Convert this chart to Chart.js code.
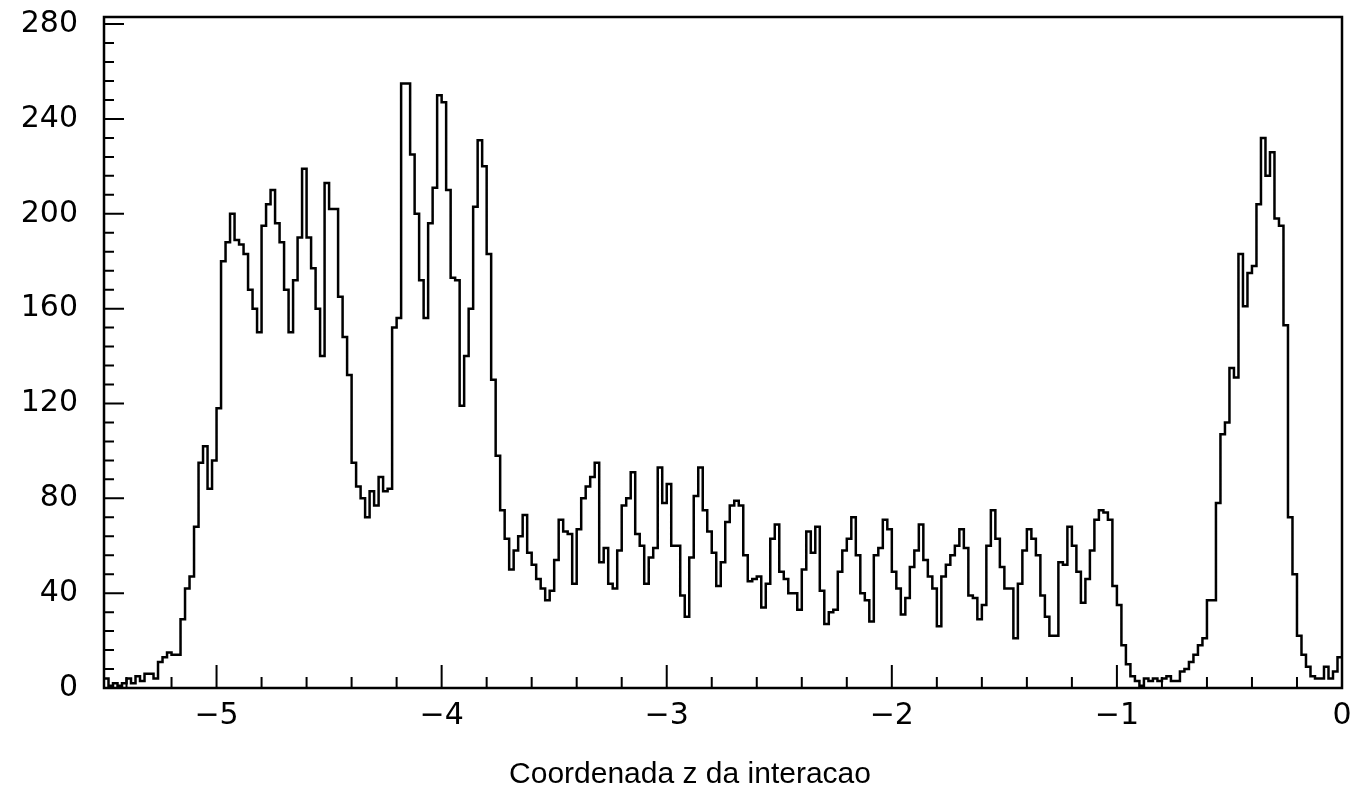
<!DOCTYPE html>
<html lang="pt">
<head>
  <meta charset="UTF-8">
  <title>Coordenada z da interacao</title>
  <script src="https://cdn.jsdelivr.net/npm/chart.js"></script>
  <style>
    html, body { margin: 0; padding: 0; background: #fff; }
    canvas { display: block; }
  </style>
</head>
<body>
  <canvas id="zChart" width="1364" height="798"></canvas>

  <script>
    // histograma: 275 canais de 0.02 entre -5.5 e 0
    const binStart = -5.5;
    const binWidth = 0.02;

    const countsA = [4, 1, 2, 1, 2, 4, 2, 5, 3, 6, 6, 4, 11, 13, 15, 14, 14, 29, 42, 47, 68, 95, 102, 84, 96,
                     118, 180, 188, 200, 189, 187, 183, 168, 160, 150, 195, 204, 210, 196, 188, 168, 150, 172, 190, 219, 190, 177, 160, 140, 213];
    const countsB = [202, 202, 165, 148, 132, 95, 85, 80, 72, 83, 77, 89, 83, 84, 152, 156, 255, 255, 225, 200, 172, 156, 196, 211, 250,
                     247, 210, 173, 172, 119, 140, 160, 203, 231, 220, 183, 130, 98, 75, 63, 50, 58, 64, 73, 57, 52, 46, 42, 37, 41];
    const countsC = [54, 71, 66, 65, 44, 67, 80, 85, 89, 95, 53, 59, 44, 42, 58, 77, 80, 91, 65, 60, 44, 55, 59, 93, 78,
                     86, 60, 60, 39, 30, 55, 81, 93, 75, 66, 57, 43, 53, 70, 77, 79, 77, 56, 45, 46, 47, 34, 44, 63, 69];
    const countsD = [49, 46, 40, 40, 33, 50, 66, 57, 68, 41, 27, 32, 33, 49, 58, 63, 72, 56, 40, 37, 28, 56, 59, 71, 67,
                     49, 42, 31, 38, 51, 58, 69, 54, 47, 42, 26, 47, 52, 56, 60, 67, 59, 39, 38, 29, 35, 60, 75, 63, 51];
    const countsE = [42, 42, 21, 44, 58, 67, 63, 56, 39, 30, 22, 22, 53, 52, 68, 60, 49, 36, 46, 58, 71, 75, 74, 71, 43,
                     35, 18, 10, 5, 3, 1, 4, 3, 4, 3, 4, 5, 3, 3, 7, 8, 11, 14, 18, 21, 37, 37, 78, 107, 112];
    const countsF = [135, 131, 183, 161, 175, 178, 204, 232, 216, 226, 198, 195, 153, 72, 48, 22, 14, 9, 5, 4, 4, 9, 4, 7, 13];

    const xTickValues = [-5, -4, -3, -2, -1, 0];
    const yTickValues = [0, 40, 80, 120, 160, 200, 240, 280];
    const xMinorStep = 0.2;
    const yMinorStep = 8;

    const counts = [].concat(countsA, countsB, countsC, countsD, countsE, countsF);
    const xMin = binStart;
    const xMax = binStart + counts.length * binWidth;

    // pontos nas bordas esquerdas dos canais + ponto final na borda direita
    const points = counts.map((c, i) => ({ x: binStart + i * binWidth, y: c }));
    points.push({ x: xMax, y: counts[counts.length - 1] });

    const TICK_FONT = '"DejaVu Sans", sans-serif';
    const TITLE_FONT = '"Liberation Sans", Arial, sans-serif';

    // moldura e marcas para dentro, como no original
    const frameTicks = {
      id: 'frameTicks',
      afterDatasetsDraw(chart) {
        const { ctx, chartArea: a, scales: { x, y } } = chart;
        ctx.save();
        ctx.strokeStyle = '#000';
        ctx.lineWidth = 2.5;
        ctx.strokeRect(a.left, a.top, a.right - a.left, a.bottom - a.top);

        ctx.lineWidth = 2;
        ctx.beginPath();
        const nx = Math.round((xMax - xMin) / xMinorStep);
        for (let i = 1; i < nx; i++) {
          const v = xMax - i * xMinorStep;
          const major = Math.abs(v - Math.round(v)) < 1e-6;
          const px = x.getPixelForValue(v);
          ctx.moveTo(px, a.bottom);
          ctx.lineTo(px, a.bottom - (major ? 23 : 11));
        }
        const ny = Math.floor(y.max / yMinorStep);
        for (let i = 1; i <= ny; i++) {
          const v = i * yMinorStep;
          const major = v % 40 === 0;
          const py = y.getPixelForValue(v);
          ctx.moveTo(a.left, py);
          ctx.lineTo(a.left + (major ? 20 : 10), py);
        }
        ctx.stroke();
        ctx.restore();
      }
    };

    new Chart(document.getElementById('zChart').getContext('2d'), {
      type: 'line',
      data: {
        datasets: [{
          data: points,
          stepped: true,
          borderColor: '#000',
          borderWidth: 2.5,
          pointRadius: 0,
          fill: false,
          tension: 0
        }]
      },
      options: {
        responsive: false,
        animation: false,
        layout: { padding: { top: 17, right: 0, left: 16, bottom: 0 } },
        plugins: {
          legend: { display: false },
          tooltip: { enabled: false },
          title: {
            display: true,
            position: 'bottom',
            text: 'Coordenada z da interacao',
            color: '#000',
            font: { family: TITLE_FONT, size: 30, weight: 'normal' },
            padding: { top: 9, bottom: 5 }
          }
        },
        scales: {
          x: {
            type: 'linear',
            min: xMin,
            max: xMax,
            afterBuildTicks: s => { s.ticks = xTickValues.map(v => ({ value: v })); },
            afterFit: s => {
              s.height = 60;
              s.paddingLeft = 0;
              s.paddingRight = 22;
              s.paddingTop = 0;
              s.paddingBottom = 0;
            },
            grid: { display: false, drawTicks: false },
            border: { display: false },
            ticks: {
              autoSkip: false,
              maxRotation: 0,
              padding: 10,
              color: '#000',
              font: { family: TICK_FONT, size: 30 },
              callback: v => v < 0 ? '\u2212' + Math.abs(v) : String(v)
            }
          },
          y: {
            min: 0,
            max: 283,
            afterBuildTicks: s => { s.ticks = yTickValues.map(v => ({ value: v })); },
            afterFit: s => {
              s.width = 88;
              s.paddingTop = 0;
              s.paddingBottom = 0;
            },
            grid: { display: false, drawTicks: false },
            border: { display: false },
            ticks: {
              padding: 26,
              color: '#000',
              font: { family: TICK_FONT, size: 30 },
              callback: v => String(v)
            }
          }
        }
      },
      plugins: [frameTicks]
    });
  </script>
</body>
</html>
